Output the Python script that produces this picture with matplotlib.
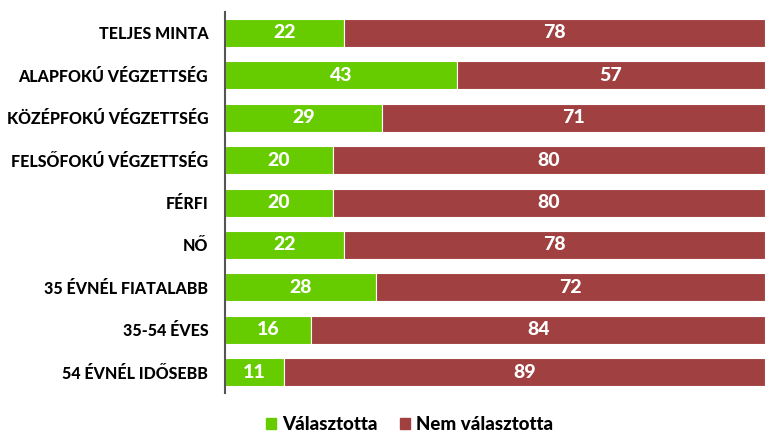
import matplotlib
matplotlib.use("Agg")
import matplotlib.pyplot as plt
from matplotlib.patches import Patch

plt.rcParams['font.family'] = ['Lato', 'DejaVu Sans']

categories = ['TELJES MINTA', 'ALAPFOKÚ VÉGZETTSÉG', 'KÖZÉPFOKÚ VÉGZETTSÉG',
              'FELSŐFOKÚ VÉGZETTSÉG', 'FÉRFI', 'NŐ', '35 ÉVNÉL FIATALABB',
              '35-54 ÉVES', '54 ÉVNÉL IDŐSEBB']
chose = [22, 43, 29, 20, 20, 22, 28, 16, 11]
not_chose = [78, 57, 71, 80, 80, 78, 72, 84, 89]

green = '#66CC00'
red = '#A04040'

fig = plt.figure(figsize=(7.65, 4.37), dpi=100)
ax = fig.add_axes([0.294, 0.10, 0.706, 0.873])

y = list(range(len(categories)))
h = 0.66
ax.barh(y, chose, height=h, color=green, edgecolor='white', linewidth=0.8)
ax.barh(y, not_chose, left=chose, height=h, color=red, edgecolor='white', linewidth=0.8)

for i in y:
    ax.text(chose[i] / 2, i, str(chose[i]), ha='center', va='center',
            color='white', fontsize=14, fontweight=900)
    ax.text(chose[i] + not_chose[i] / 2, i, str(not_chose[i]), ha='center', va='center',
            color='white', fontsize=14, fontweight=900)

ax.set_xlim(0, 100)
ax.set_ylim(len(categories) - 0.5, -0.5)
ax.set_yticks(y)
ax.set_yticklabels(categories, fontsize=11.5, fontweight=900)
ax.tick_params(axis='y', length=0, pad=12)
ax.set_xticks([])
for s in ['top', 'right', 'bottom']:
    ax.spines[s].set_visible(False)
ax.spines['left'].set_color('#555555')
ax.spines['left'].set_linewidth(1.5)

handles = [Patch(color=green, label='Választotta'), Patch(color=red, label='Nem választotta')]
fig.legend(handles=handles, loc='lower center', bbox_to_anchor=(0.535, -0.03), ncol=2,
           frameon=False, prop={'size': 13.5, 'weight': 900},
           handlelength=0.55, handleheight=0.55, handletextpad=0.3, columnspacing=1.2)

fig.savefig('out.png', dpi=100)
